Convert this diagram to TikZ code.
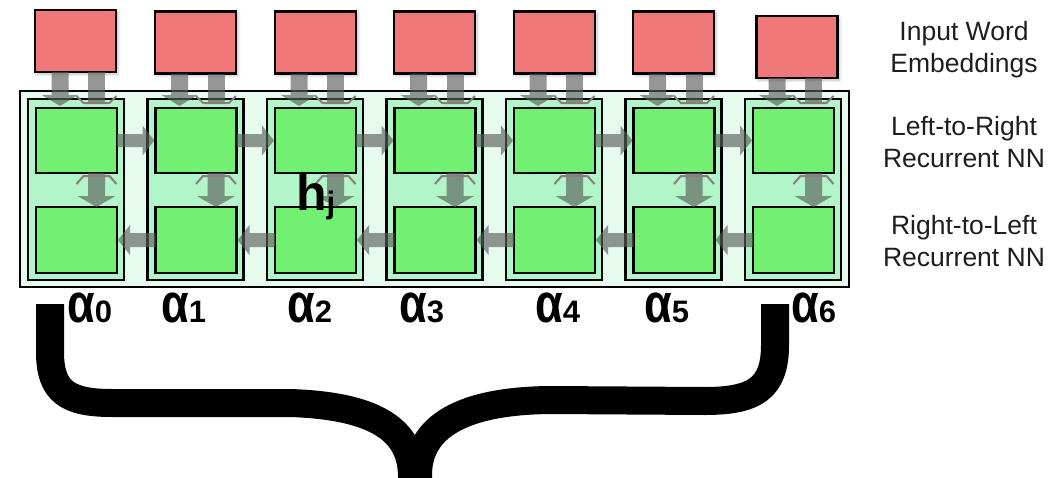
\documentclass[tikz,border=0pt]{standalone}
\usepackage{fontspec}
\setmainfont{Liberation Sans}
\usetikzlibrary{calc,shadows.blur}

\definecolor{embedred}{RGB}{240,120,120}
\definecolor{cellgreen}{RGB}{114,240,114}
\definecolor{colgreen}{RGB}{178,245,200}
\definecolor{panelgreen}{RGB}{230,251,238}
\definecolor{flowgray}{RGB}{90,96,92}
\definecolor{chevgray}{RGB}{140,124,130}
\definecolor{labelgray}{RGB}{30,30,30}

\newcommand{\wsub}[1]{{\fontsize{31}{31}\selectfont #1}}
\newcommand{\walpha}{\scalebox{0.9}[1.1]{α}}

\begin{document}
\begin{tikzpicture}[x=1pt,y=-1pt,
  panel/.style={draw=black, line width=2pt, fill=panelgreen, inner sep=0pt, outer sep=0pt},
  column/.style={draw=black, line width=2.5pt, fill=colgreen, minimum width=96pt, minimum height=181pt, inner sep=0pt, outer sep=0pt},
  cell/.style={draw=black, line width=2.5pt, fill=cellgreen, minimum width=81pt, minimum height=65pt, inner sep=0pt, outer sep=0pt},
  embed/.style={draw=black, line width=2.2pt, fill=embedred, minimum width=81pt, minimum height=62pt, inner sep=0pt, outer sep=0pt,
    blur shadow={shadow xshift=2pt, shadow yshift=-2pt, shadow blur radius=3pt, shadow opacity=25}},
  flow/.style={fill=flowgray, fill opacity=0.65},
  chevron/.style={draw=chevgray, line width=2pt, line join=round},
  sidelabel/.style={font=\fontsize{26.5}{32}\selectfont, text=labelgray, align=center, inner sep=0pt},
  weight/.style={font=\fontsize{50}{50}\selectfont\bfseries, anchor=base west, inner sep=0pt},
  brace/.style={draw=black, line width=28pt}
]
\useasboundingbox (0,0) rectangle (1061,477);
\clip (0,0) rectangle (1061,477);

% bidirectional RNN panel
\node[panel, minimum width=829pt, minimum height=196pt] (panel) at (434.5,189) {};

% one column per word: forward cell on top, backward cell below
\foreach \j in {0,...,6} {
  \pgfmathsetmacro\L{28+119.5*\j}
  \node[column] (c\j) at (\L+48,189.5) {};
  \node[cell] (t\j) at (\L+48.5,140.5) {};
  \node[cell, minimum height=66pt] (b\j) at (\L+48.5,240) {};
}

% word embeddings
\foreach \j/\x/\y in {0/75.5/41, 1/195.5/42.5, 2/315.5/42.5, 3/434.5/42.5, 4/554.5/42.5, 5/673.5/42.5, 6/797/47}
  \node[embed] (r\j) at (\x,\y) {};

% vertical flows inside each column
\foreach \j in {0,...,6} {
  % embedding into the forward cell
  \coordinate (s) at ($(t\j.north |- r\j.south)+(-16.5,0)$);
  \coordinate (e) at ($(t\j.north)+(-16.5,-2)$);
  \fill[flow] ($(s)+(-8.5,0)$) -- ($(s)+(8.5,0)$) -- ($(e)+(8.5,-11)$) -- ($(e)+(18,-11)$)
    -- (e) -- ($(e)+(-18,-11)$) -- ($(e)+(-8.5,-11)$) -- cycle;
  % embedding into the backward cell, passing behind
  \coordinate (s2) at ($(t\j.north |- r\j.south)+(20,0)$);
  \coordinate (e2) at ($(t\j.north)+(20,-5)$);
  \fill[flow] ($(s2)+(-8.5,0)$) rectangle ($(e2)+(8.5,0)$);
  \draw[chevron] ($(e2)+(-20,-7)$) -- ($(e2)+(-13,0)$) -- ($(e2)+(13,0)$) -- ($(e2)+(20,-7)$);
  % forward cell feeding the backward cell
  \coordinate (m) at ($(t\j.south)+(20,0)$);
  \coordinate (n) at ($(b\j.north)+(20,0)$);
  \fill[flow] ($(m)+(-8.5,0)$) -- ($(m)+(8.5,0)$) -- ($(n)+(8.5,-11)$) -- ($(n)+(19,-11)$)
    -- (n) -- ($(n)+(-19,-11)$) -- ($(n)+(-8.5,-11)$) -- cycle;
  \draw[chevron] ($(m)+(-20,11)$) -- ($(m)+(-13,3)$) -- ($(m)+(13,3)$) -- ($(m)+(20,11)$);
}

% recurrent connections: left-to-right on top, right-to-left below
\foreach \j in {0,...,5} {
  \pgfmathtruncatemacro\k{\j+1}
  \coordinate (p) at (t\j.east);
  \coordinate (q) at ($(t\k.west)+(-1,0)$);
  \fill[flow] ($(p)+(0,-6.5)$) -- ($(q)+(-12,-6.5)$) -- ($(q)+(-12,-15)$) -- (q)
    -- ($(q)+(-12,15)$) -- ($(q)+(-12,6.5)$) -- ($(p)+(0,6.5)$) -- cycle;
  \coordinate (u) at (b\k.west);
  \coordinate (v) at ($(b\j.east)+(1,0)$);
  \fill[flow] ($(u)+(0,-7)$) -- ($(v)+(12,-7)$) -- ($(v)+(12,-15)$) -- (v)
    -- ($(v)+(12,15)$) -- ($(v)+(12,7)$) -- ($(u)+(0,7)$) -- cycle;
}

% hidden state label
\node[weight] (hj) at (296,210) {h\raisebox{-3pt}{\wsub{j}}};

% row captions
\node[sidelabel, anchor=base] (lblin) at (964,72) {Input Word\\Embeddings};
\node[sidelabel, anchor=base] (lbllr) at (964,167) {Left-to-Right\\Recurrent NN};
\node[sidelabel, anchor=base] (lblrl) at (964,266) {Right-to-Left\\Recurrent NN};

% attention weights
\foreach \j/\x in {0/67, 1/161, 2/287, 3/399, 4/535, 5/644, 6/791}
  \node[weight] (w\j) at (\x,322) {\walpha\wsub{\j}};

% brace gathering the weights
\draw[brace] (50,304) -- (50,352) .. controls (50,392) and (68,403) .. (112,403) -- (290,403)
  .. controls (385,406) and (411,436) .. (412,475) -- (412,495);
\draw[brace] (775,304) -- (775,345) .. controls (775,388) and (755,401) .. (705,401) -- (550,400)
  .. controls (450,401) and (418,434) .. (418,475) -- (418,495);
\end{tikzpicture}
\end{document}
